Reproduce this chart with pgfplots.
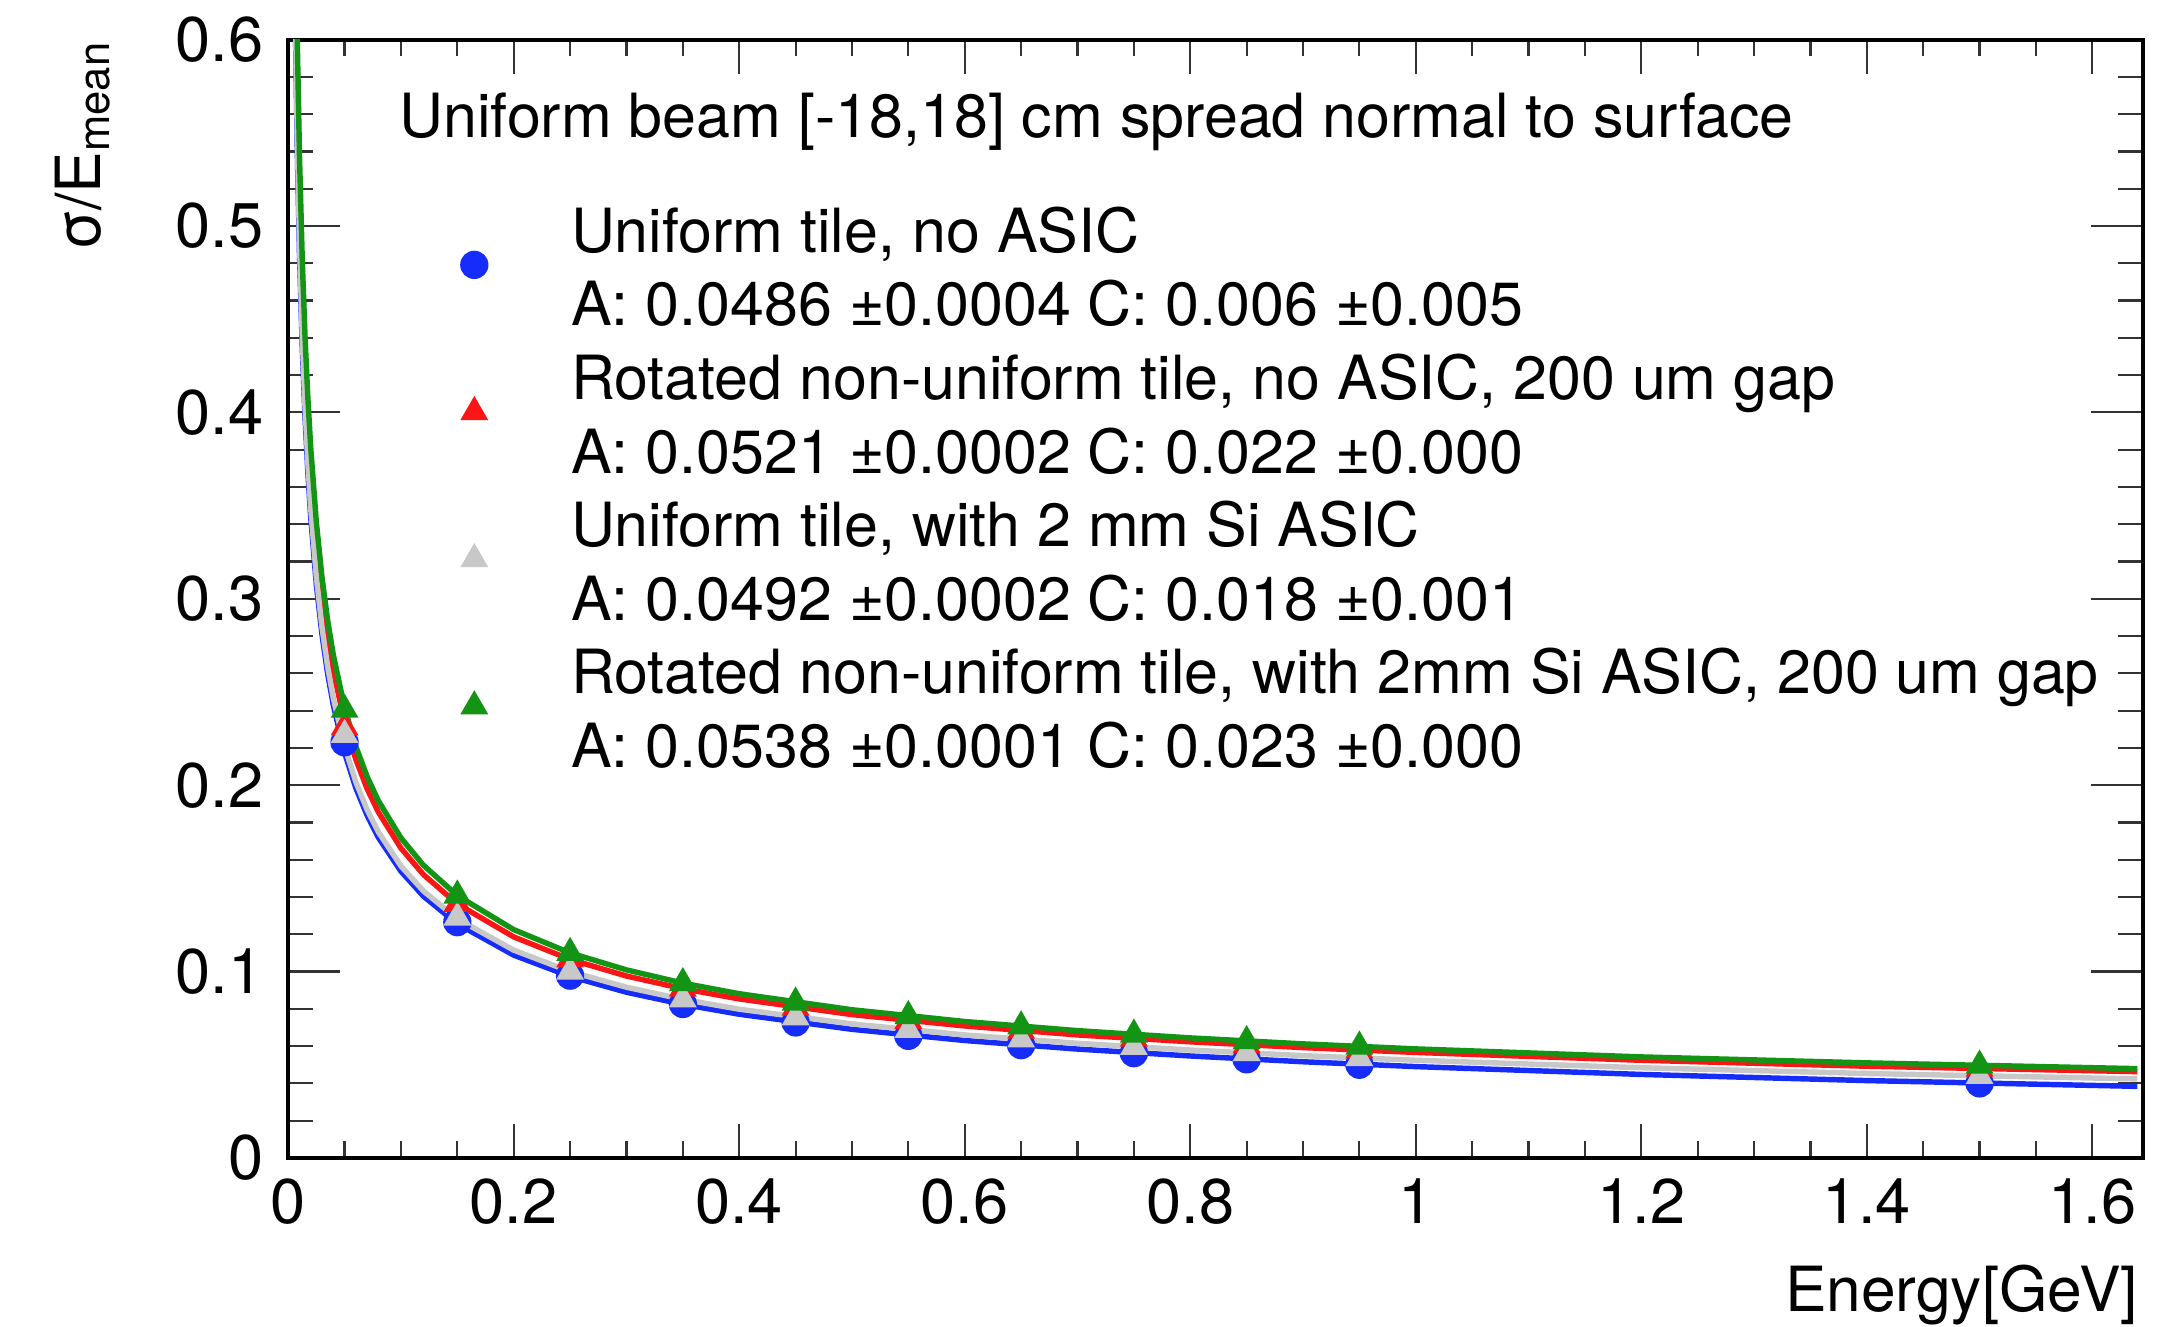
\documentclass[border=0pt]{standalone}
\usepackage{fontspec}
\setmainfont{TeX Gyre Heros}
\usepackage{pgfplots}
\usepackage{pgfplotstable}
\pgfplotsset{compat=1.18}
\usetikzlibrary{calc}

\definecolor{rootblue}{RGB}{22,44,250}
\definecolor{rootred}{RGB}{250,22,22}
\definecolor{rootgray}{RGB}{200,200,200}
\definecolor{rootgreen}{RGB}{20,148,20}

% fitted resolution curves, sigma/E = sqrt(A^2/E + C^2)
\pgfplotstableread{
E       blue    gray    red     green
0.0065  0.6028  0.6105  0.6466  0.6677
0.008   0.5434  0.5504  0.5829  0.6019
0.01    0.4860  0.4923  0.5215  0.5385
0.0125  0.4347  0.4404  0.4665  0.4817
0.015   0.3969  0.4021  0.4260  0.4399
0.0175  0.3674  0.3724  0.3944  0.4073
0.02    0.3437  0.3484  0.3691  0.3811
0.025   0.3074  0.3117  0.3302  0.3410
0.03    0.2807  0.2846  0.3016  0.3115
0.035   0.2598  0.2636  0.2794  0.2885
0.04    0.2431  0.2467  0.2614  0.2700
0.05    0.2174  0.2208  0.2340  0.2417
0.06    0.1985  0.2017  0.2138  0.2208
0.07    0.1838  0.1868  0.1981  0.2046
0.08    0.1719  0.1749  0.1855  0.1916
0.1     0.1538  0.1566  0.1662  0.1717
0.12    0.1404  0.1432  0.1520  0.1570
0.15    0.1256  0.1283  0.1363  0.1408
0.2     0.1088  0.1115  0.1186  0.1225
0.25    0.0974  0.1000  0.1065  0.1100
0.3     0.0889  0.0916  0.0976  0.1009
0.35    0.0824  0.0851  0.0908  0.0938
0.4     0.0771  0.0798  0.0853  0.0881
0.5     0.0690  0.0719  0.0769  0.0795
0.6     0.0630  0.0660  0.0708  0.0732
0.7     0.0584  0.0615  0.0660  0.0683
0.8     0.0547  0.0579  0.0623  0.0644
0.9     0.0516  0.0549  0.0592  0.0612
1.0     0.0490  0.0524  0.0566  0.0585
1.2     0.0448  0.0484  0.0524  0.0542
1.4     0.0415  0.0453  0.0492  0.0510
1.64    0.0384  0.0424  0.0463  0.0479
}\fits

% measured resolution per beam energy
\pgfplotstableread{
E     blue    red     gray    green
0.05  0.2230  0.2310  0.2270  0.2405
0.15  0.1265  0.1363  0.1290  0.1408
0.25  0.0978  0.1065  0.1000  0.1100
0.35  0.0826  0.0908  0.0851  0.0938
0.45  0.0727  0.0807  0.0755  0.0834
0.55  0.0655  0.0736  0.0687  0.0761
0.65  0.0605  0.0683  0.0636  0.0706
0.75  0.0562  0.0641  0.0596  0.0662
0.85  0.0529  0.0606  0.0563  0.0627
0.95  0.0500  0.0578  0.0536  0.0598
1.5   0.0400  0.0479  0.0440  0.0496
}\points

\pgfplotsset{
  dotlegend/.style={legend image code/.code={\draw[##1] plot coordinates {(0pt,2.2pt)};}},
  fitline/.style={no marks, line width=1.25pt, forget plot},
}

\begin{document}
\begin{tikzpicture}
\begin{axis}[
  scale only axis,
  width=426.1pt, height=256.9pt,
  xmin=0, xmax=1.645, ymin=0, ymax=0.6,
  xtick distance=0.2, ytick distance=0.1,
  minor x tick num=3, minor y tick num=4,
  tick align=inside, xtick pos=both, ytick pos=both,
  axis line style={line width=0.9pt},
  x tick style={line width=0.5pt, black!80,
    /pgfplots/major tick length=7.9pt, /pgfplots/minor tick length=3.8pt},
  y tick style={line width=0.5pt, black!80,
    /pgfplots/major tick length=11.9pt, /pgfplots/minor tick length=5.8pt},
  /pgf/number format/assume math mode=true,
  tick label style={font=\fontsize{14.5}{17}\selectfont},
  xticklabel style={inner sep=0pt, anchor=north, yshift=-4.6pt},
  yticklabel style={inner sep=0pt, anchor=east, xshift=-5.5pt},
  xlabel={Energy[GeV]},
  xlabel style={at={(axis description cs:1,0)}, anchor=base east,
    yshift=-35.2pt, xshift=-1pt, inner sep=0pt, font=\fontsize{14.3}{17}\selectfont},
  ylabel={σ/E\textsubscript{mean}},
  ylabel style={at={(axis description cs:-0.1014,1)}, anchor=base east,
    rotate=0, inner sep=0pt, font=\fontsize{14.3}{17}\selectfont},
  legend style={at={(0.0932,0.8558)}, anchor=north west, draw=none, fill=none,
    inner sep=0pt, outer sep=0pt, row sep=0pt, column sep=19.2pt,
    nodes={inner sep=0pt, outer sep=0pt, text depth=}, cells={anchor=west},
    font=\fontsize{14}{16.9}\selectfont},
]

\addplot[only marks, mark=*, mark size=3.05pt, color=rootblue, dotlegend]
  table[x=E, y=blue] {\points};
\addlegendentry{\begin{tabular}{@{}l@{}}Uniform tile, no ASIC\\A: 0.0486 ±0.0004 C: 0.006 ±0.005\end{tabular}}
\addplot[fitline, rootblue] table[x=E, y=blue] {\fits};

\addplot[only marks, mark=triangle*, mark size=3.3pt, color=rootred, dotlegend]
  table[x=E, y=red] {\points};
\addlegendentry{\begin{tabular}{@{}l@{}}Rotated non-uniform tile, no ASIC, 200 um gap\\A: 0.0521 ±0.0002 C: 0.022 ±0.000\end{tabular}}
\addplot[fitline, rootred] table[x=E, y=red] {\fits};

\addplot[only marks, mark=triangle*, mark size=3.3pt, color=rootgray, dotlegend]
  table[x=E, y=gray] {\points};
\addlegendentry{\begin{tabular}{@{}l@{}}Uniform tile, with 2 mm Si ASIC\\A: 0.0492 ±0.0002 C: 0.018 ±0.001\end{tabular}}
\addplot[fitline, rootgray] table[x=E, y=gray] {\fits};

\addplot[only marks, mark=triangle*, mark size=3.3pt, color=rootgreen, dotlegend]
  table[x=E, y=green] {\points};
\addlegendentry{\begin{tabular}{@{}l@{}}Rotated non-uniform tile, with 2mm Si ASIC, 200 um gap\\A: 0.0538 ±0.0001 C: 0.023 ±0.000\end{tabular}}
\addplot[fitline, rootgreen] table[x=E, y=green] {\fits};

\node[anchor=base west, inner sep=0pt, font=\fontsize{14}{16.9}\selectfont]
  at (rel axis cs:0.0596,0.9129) {Uniform beam [-18,18] cm spread normal to surface};
\end{axis}
\pgfresetboundingbox
\path[use as bounding box] ($(current axis.south west)+(-66.2pt,-38.8pt)$)
  rectangle ($(current axis.north east)+(7.8pt,9.1pt)$);
\end{tikzpicture}
\end{document}
